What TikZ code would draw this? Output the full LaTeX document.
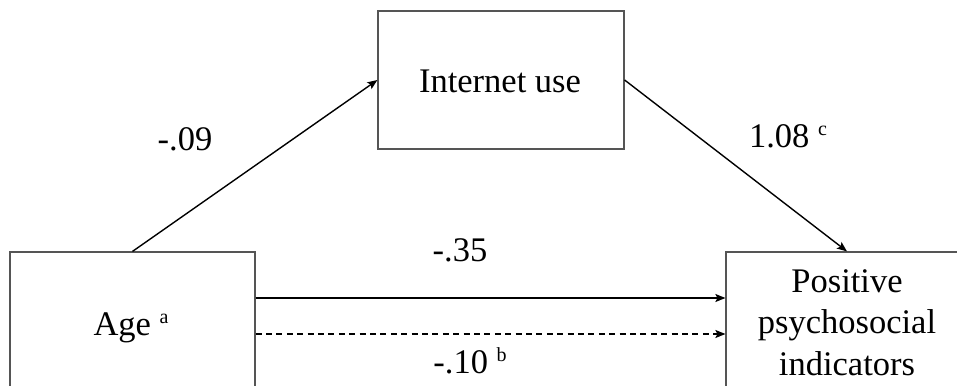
\documentclass[tikz,border=0pt]{standalone}
\usepackage{fontspec}
\setmainfont{Liberation Serif}
\usetikzlibrary{arrows.meta}
\definecolor{boxgray}{RGB}{85,85,85}
\newcommand{\supx}[1]{{\fontsize{20pt}{20pt}\selectfont\raisebox{12pt}{#1}}}
\tikzset{
  boxnode/.style={draw=boxgray, line width=1.2pt, inner sep=0pt, fill=none},
  lbl/.style={anchor=base, inner sep=0pt, font=\fontsize{34.5pt}{41pt}\selectfont},
  conn/.style={line width=1.4pt, draw=black, -{Stealth[length=10pt,width=8pt,inset=2pt]}},
  dconn/.style={conn, dash pattern=on 6pt off 4.4pt}
}
\begin{document}
\begin{tikzpicture}[x=1pt,y=1pt]
\useasboundingbox (0,0) rectangle (957,-385);
\clip (0,0) rectangle (957,-385);
\fill[white] (0,0) rectangle (957,-385);
% boxes
\node[boxnode, minimum width=245pt, minimum height=148pt] (age) at (132.5,-326) {};
\node[boxnode, minimum width=246pt, minimum height=138pt] (inet) at (501,-80) {};
\node[boxnode, minimum width=242pt, minimum height=148pt] (pos) at (847,-326) {};
% box texts
\node[lbl] (agetxt) at (131,-335) {Age \supx{a}};
\node[lbl] (inettxt) at (500,-93) {Internet use};
\node[lbl] (pos1) at (847,-292) {Positive};
\node[lbl] (pos2) at (847,-333.5) {psychosocial};
\node[lbl] (pos3) at (847,-375) {indicators};
% connectors
\draw[conn] (age.north) -- (inet.west);
\draw[conn] (inet.east) -- (pos.north);
\draw[conn] ([yshift=28pt]age.east) -- ([yshift=28pt]pos.west);
\draw[dconn] ([yshift=-8pt]age.east) -- ([yshift=-8pt]pos.west);
% path labels
\node[lbl] (l09) at (185,-150) {-.09};
\node[lbl] (l108) at (788,-147) {1.08 \supx{c}};
\node[lbl] (l35) at (460,-261) {-.35};
\node[lbl] (l10) at (470,-373) {-.10 \supx{b}};
\end{tikzpicture}
\end{document}
